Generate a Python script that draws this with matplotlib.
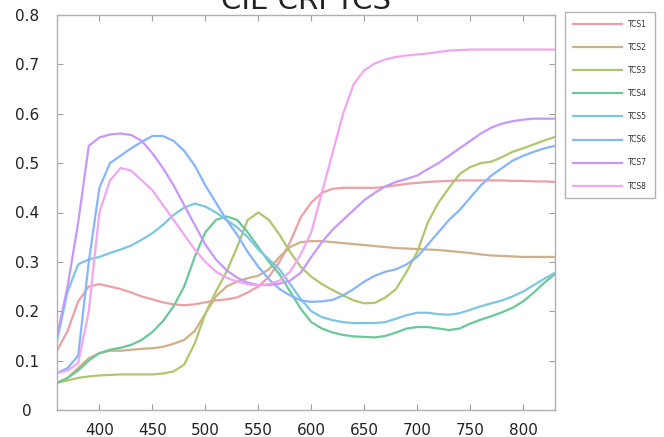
import matplotlib
matplotlib.use("Agg")
import matplotlib.pyplot as plt
import numpy as np

wavelengths = list(range(360, 831, 10))

tcs1 = [0.12, 0.16, 0.22, 0.25, 0.255, 0.25, 0.245, 0.238, 0.23, 0.224, 0.218, 0.214, 0.212, 0.214, 0.218, 0.222,
        0.224, 0.228, 0.238, 0.25, 0.27, 0.3, 0.34, 0.39, 0.42, 0.44, 0.448, 0.45, 0.45, 0.45, 0.45, 0.452,
        0.455, 0.458, 0.46, 0.462, 0.463, 0.464, 0.465, 0.465, 0.465, 0.465, 0.465, 0.464, 0.464, 0.463, 0.463, 0.462]
tcs2 = [0.055, 0.065, 0.085, 0.105, 0.115, 0.12, 0.12, 0.122, 0.124, 0.125, 0.128, 0.134, 0.142, 0.16, 0.195, 0.23,
        0.25, 0.26, 0.267, 0.272, 0.285, 0.31, 0.33, 0.34, 0.342, 0.342, 0.34, 0.338, 0.336, 0.334, 0.332, 0.33,
        0.328, 0.327, 0.326, 0.325, 0.324, 0.322, 0.32, 0.318, 0.315, 0.313, 0.312, 0.311, 0.31, 0.31, 0.31, 0.31]
tcs3 = [0.055, 0.06, 0.065, 0.068, 0.07, 0.071, 0.072, 0.072, 0.072, 0.072, 0.074, 0.078, 0.092, 0.135, 0.195, 0.24,
        0.28, 0.33, 0.385, 0.4, 0.385, 0.355, 0.32, 0.29, 0.27, 0.255, 0.243, 0.232, 0.222, 0.216, 0.217, 0.228,
        0.245, 0.28, 0.32, 0.38, 0.42, 0.45, 0.478, 0.492, 0.5, 0.503, 0.512, 0.523, 0.53, 0.538, 0.546, 0.553]
tcs4 = [0.055, 0.065, 0.08, 0.1, 0.115, 0.122, 0.126, 0.132, 0.142, 0.158, 0.18, 0.21, 0.25, 0.31, 0.36, 0.385,
        0.392, 0.385, 0.36, 0.33, 0.3, 0.275, 0.24, 0.205, 0.178, 0.165, 0.157, 0.152, 0.149, 0.148, 0.147, 0.15,
        0.157, 0.165, 0.168, 0.168, 0.165, 0.162, 0.165, 0.175, 0.183, 0.19, 0.198, 0.207, 0.22, 0.238, 0.258, 0.275]
tcs5 = [0.14, 0.24, 0.295, 0.305, 0.31, 0.318, 0.325, 0.333, 0.345, 0.358, 0.375, 0.395, 0.41, 0.418, 0.412, 0.4,
        0.385, 0.37, 0.35, 0.325, 0.305, 0.285, 0.255, 0.225, 0.2, 0.188, 0.182, 0.178, 0.176, 0.176, 0.176, 0.178,
        0.185, 0.192, 0.197, 0.197, 0.194, 0.193, 0.196, 0.203, 0.21, 0.216, 0.222, 0.23, 0.24, 0.253, 0.266, 0.278]
tcs6 = [0.075, 0.085, 0.11, 0.3, 0.45, 0.5, 0.515, 0.53, 0.543, 0.555, 0.555, 0.545, 0.525, 0.495, 0.455, 0.42,
        0.385, 0.355, 0.32, 0.29, 0.265, 0.245, 0.232, 0.222, 0.219, 0.22, 0.223, 0.232, 0.245, 0.26, 0.272, 0.28,
        0.285, 0.295, 0.31, 0.335, 0.36, 0.385, 0.405, 0.43, 0.455, 0.475, 0.49, 0.505, 0.515, 0.523, 0.53, 0.535]
tcs7 = [0.15, 0.25, 0.38, 0.535, 0.552, 0.558, 0.56, 0.557, 0.545, 0.52, 0.49, 0.455, 0.415, 0.375, 0.335, 0.305,
        0.283, 0.268, 0.258, 0.253, 0.253, 0.256, 0.262, 0.278, 0.31, 0.34, 0.365, 0.385, 0.405, 0.425, 0.44, 0.453,
        0.462, 0.468, 0.475, 0.488, 0.5, 0.515, 0.53, 0.545, 0.56, 0.572, 0.58, 0.585, 0.588, 0.59, 0.59, 0.59]
tcs8 = [0.075, 0.08, 0.095, 0.2, 0.4, 0.465, 0.49, 0.485, 0.465, 0.445, 0.415, 0.385, 0.355, 0.325, 0.3, 0.28,
        0.268, 0.26, 0.255, 0.252, 0.255, 0.262, 0.28, 0.315, 0.36, 0.44, 0.52, 0.6, 0.66, 0.688, 0.702, 0.71,
        0.715, 0.718, 0.72, 0.722, 0.725, 0.728, 0.729, 0.73, 0.73, 0.73, 0.73, 0.73, 0.73, 0.73, 0.73, 0.73]

labels = ["TCS1", "TCS2", "TCS3", "TCS4", "TCS5", "TCS6", "TCS7", "TCS8"]
series = [tcs1, tcs2, tcs3, tcs4, tcs5, tcs6, tcs7, tcs8]
colors = ["#eaa0a6", "#cfb08a", "#b0c66e", "#6cc79a", "#7cc6e2", "#88b4fc", "#c698fc", "#f2a6ee"]

x_ticks = [400, 450, 500, 550, 600, 650, 700, 750, 800]
y_ticks = [0, 0.1, 0.2, 0.3, 0.4, 0.5, 0.6, 0.7, 0.8]
y_tick_labels = ["0", "0.1", "0.2", "0.3", "0.4", "0.5", "0.6", "0.7", "0.8"]

W, H = 664, 437
fig = plt.figure(figsize=(W / 100, H / 100), dpi=100)
ax = fig.add_axes([57 / W, 1 - 410 / H, (555 - 57) / W, (410 - 15) / H])

lines = []
for lab, s, c in zip(labels, series, colors):
    ln, = ax.plot(wavelengths, s, color=c, lw=1.6, label=lab, solid_joinstyle="round")
    lines.append(ln)

ax.set_xlim(360, 830)
ax.set_ylim(0, 0.8)
ax.set_xticks(x_ticks)
ax.set_yticks(y_ticks)
ax.set_yticklabels(y_tick_labels)
ax.tick_params(direction="in", length=4, width=0.8, color="#a0a0a0",
               top=True, right=True, labelsize=11, labelcolor="#222222")
ax.tick_params(axis="x", pad=9.5)
ax.tick_params(axis="y", pad=21.6)
for t in ax.get_yticklabels():
    t.set_horizontalalignment("center")
for sp in ax.spines.values():
    sp.set_color("#b0b0b0")
    sp.set_linewidth(1.0)

fig.text(306 / W, 1 - 9 / H, "CIE CRI TCS", ha="center", va="baseline", fontsize=21, color="#222222")

leg = fig.legend(lines, labels, loc="upper left", bbox_to_anchor=(565 / W, 1 - 12 / H),
                 bbox_transform=fig.transFigure, fontsize=5.5, handlelength=6.5,
                 labelspacing=1.85, frameon=True, fancybox=False, borderpad=1.0,
                 handletextpad=0.8, borderaxespad=0)
leg.get_frame().set_edgecolor("#a0a0a0")
leg.get_frame().set_linewidth(1.0)
for t in leg.get_texts():
    t.set_color("#333333")

fig.savefig("out.png", dpi=100)
